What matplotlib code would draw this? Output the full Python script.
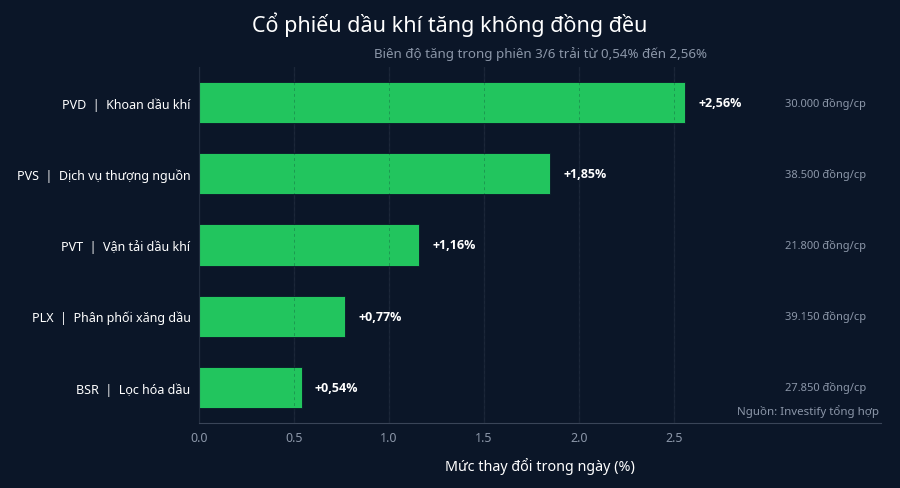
import matplotlib.pyplot as plt

plt.rcParams['font.family'] = ['Noto Sans', 'DejaVu Sans']

# dữ liệu
tickers = ['BSR', 'PLX', 'PVT', 'PVS', 'PVD']
sectors = ['Lọc hóa dầu', 'Phân phối xăng dầu', 'Vận tải dầu khí',
           'Dịch vụ thượng nguồn', 'Khoan dầu khí']
changes = [0.54, 0.77, 1.16, 1.85, 2.56]
prices = ['27.850', '39.150', '21.800', '38.500', '30.000']
xticks = [0.0, 0.5, 1.0, 1.5, 2.0, 2.5]

BG = '#0b1628'
GREEN = '#22c55e'
MUTED = '#8b96a8'
GRID = '#1c2739'

fig, ax = plt.subplots(figsize=(9, 4.89), dpi=100)
fig.patch.set_facecolor(BG)
ax.set_facecolor(BG)
fig.subplots_adjust(left=0.221, right=0.979, top=0.861, bottom=0.133)

labels = [f'{t}  |  {s}' for t, s in zip(tickers, sectors)]
ypos = range(len(tickers))
ax.barh(ypos, changes, height=0.58, color=GREEN, edgecolor=BG,
        linewidth=0.6, zorder=2)

# vạch lưới mờ phủ lên thanh
for x in xticks[1:]:
    ax.axvline(x, color='#0b1628', linewidth=0.7, alpha=0.25,
               linestyle=(0, (3, 3)), zorder=3)

for y, v, p in zip(ypos, changes, prices):
    ax.text(v + 0.07, y, '+' + f'{v:.2f}'.replace('.', ',') + '%',
            va='center', ha='left', color='white', fontsize=9,
            fontweight='bold', family=['Open Sans', 'DejaVu Sans'], zorder=4)
    ax.text(0.978, y, f'{p} đồng/cp', transform=ax.get_yaxis_transform(),
            va='center', ha='right', color=MUTED, fontsize=8)

ax.set_yticks(list(ypos))
ax.set_yticklabels(labels, color='white', fontsize=9)
ax.set_xticks(xticks)
ax.set_xticklabels([f'{x:.1f}' for x in xticks], color=MUTED, fontsize=9)
ax.set_xlim(0, 3.59)
ax.set_ylim(-0.5, 4.5)
ax.tick_params(axis='both', length=0, pad=6)

ax.grid(axis='x', color=GRID, linewidth=0.9, zorder=0)
ax.grid(axis='y', visible=False)
ax.set_axisbelow(True)

for side in ['top', 'right']:
    ax.spines[side].set_visible(False)
ax.spines['left'].set_color('#222d3f')
ax.spines['bottom'].set_color('#3a4558')

ax.set_xlabel('Mức thay đổi trong ngày (%)', color='white', fontsize=10.3,
              labelpad=9)
fig.suptitle('Cổ phiếu dầu khí tăng không đồng đều', color='white',
             fontsize=15.5, y=0.975)
ax.set_title('Biên độ tăng trong phiên 3/6 trải từ 0,54% đến 2,56%',
             color=MUTED, fontsize=9.6, pad=7)

fig.text(0.977, 0.158, 'Nguồn: Investify tổng hợp', ha='right', va='center',
         color=MUTED, fontsize=8.3)

fig.savefig('out.png', dpi=100, facecolor=BG)
